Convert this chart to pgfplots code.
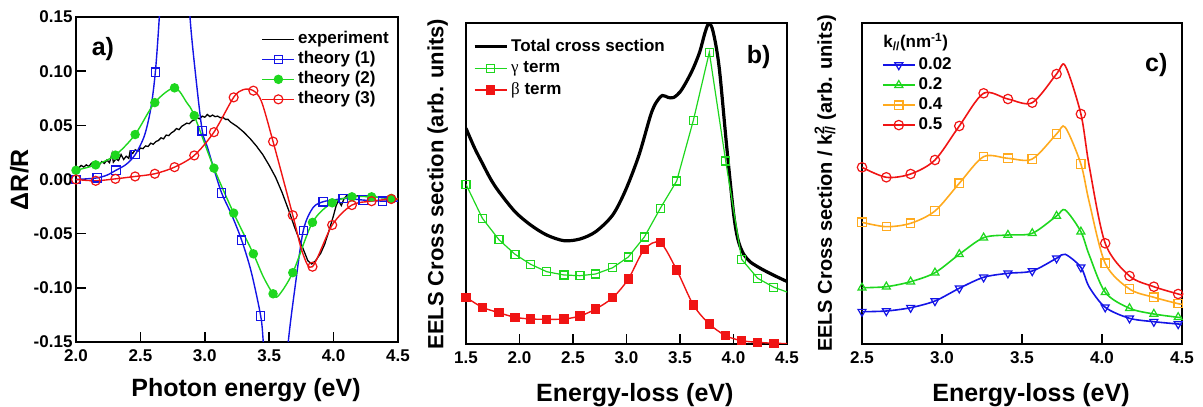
\documentclass[border=0pt]{standalone}
\usepackage{fontspec}
\setmainfont{Liberation Sans}
\newfontfamily\grk{Liberation Serif}
\usepackage{pgfplots}
\pgfplotsset{compat=1.18}
\definecolor{cblue}{RGB}{20,20,230}
\definecolor{cgreen}{RGB}{30,215,30}
\definecolor{cred}{RGB}{240,20,20}
\definecolor{corange}{RGB}{255,170,30}
\newcommand\tickfont{\fontsize{17}{17}\selectfont\bfseries}
\newcommand\labfont{\fontsize{25}{25}\selectfont\bfseries}
\newcommand\legfont{\fontsize{17}{17}\selectfont\bfseries}
\pgfplotsset{
  myaxis/.style={
    scale only axis, anchor=south west,
    axis line style={line width=1.6pt},
    tick style={line width=1.6pt, black},
    major tick length=10pt,
    tick pos=left,
    tick label style={font=\tickfont},
    xticklabel style={yshift=-4pt},
    /pgf/number format/assume math mode=true,
    label style={font=\labfont},
    legend cell align=left,
    legend style={draw=none, fill=none, font=\legfont, anchor=north west, inner sep=0pt, outer sep=0pt, row sep=0pt,
      nodes={inner xsep=3pt, inner ysep=2pt, text height=12.5pt, text depth=3.5pt}},
    legend image code/.code={\draw[##1, mark indices={2}] plot coordinates {(0pt,0pt) (16pt,0pt) (32pt,0pt)};},
  },
  % styles of the series
  sblue/.style={cblue, line width=1.4pt, mark=square, mark size=4.2pt, mark options={solid, fill=white, line width=1.2pt}},
  sgreenA/.style={cgreen, line width=1.4pt, mark=*, mark size=4pt, mark options={solid, fill=cgreen}},
  sredA/.style={cred, line width=1.4pt, mark=o, mark size=4.5pt, mark options={solid, fill=white, line width=1.2pt}},
  sgreenB/.style={cgreen, line width=1.2pt, mark=square, mark size=4pt, mark options={solid, fill=white, line width=1.1pt}},
  sredB/.style={cred, line width=1.4pt, mark=square*, mark size=4pt, mark options={solid, fill=cred}},
  cb/.style={cblue, line width=1.6pt, mark=triangle, mark size=4.6pt, mark options={solid, fill=white, rotate=180, line width=1.2pt}},
  cg/.style={cgreen, line width=1.6pt, mark=triangle, mark size=4.6pt, mark options={solid, fill=white, line width=1.2pt}},
  co/.style={corange, line width=1.6pt, mark=square, mark size=4.2pt, mark options={solid, fill=white, line width=1.2pt}},
  cr/.style={cred, line width=1.6pt, mark=o, mark size=4.7pt, mark options={solid, fill=white, line width=1.2pt}},
}
\begin{document}
\begin{tikzpicture}
\useasboundingbox (0,0) rectangle (1203pt,407pt);
% ---------------- panel a ----------------
\begin{axis}[myaxis, at={(76pt,65pt)}, width=322pt, height=325pt,
  xmin=2, xmax=4.5, ymin=-0.15, ymax=0.15,
  xtick={2,2.5,3,3.5,4,4.5}, xticklabels={2.0,2.5,3.0,3.5,4.0,4.5},
  ytick={-0.15,-0.1,-0.05,0,0.05,0.1,0.15},
  yticklabels={-0.15,-0.10,-0.05,0.00,0.05,0.10,0.15},
  xlabel={Photon energy (eV)}, ylabel={ΔR/R},
  xlabel style={at={(axis description cs:0.528,-0.168)}, anchor=base},
  ylabel style={at={(axis description cs:-0.149,0.5)}, anchor=base},
  legend style={at={(axis description cs:0.5767,0.962)}},
]
\addplot[black, line width=1.3pt] coordinates {
(2.00,0.012) (2.02,0.0105) (2.04,0.013) (2.06,0.0115) (2.08,0.0135) (2.10,0.012) (2.12,0.015) (2.14,0.0128)
(2.16,0.0155) (2.18,0.0135) (2.20,0.0165) (2.22,0.0148) (2.24,0.018) (2.26,0.0155) (2.28,0.024) (2.29,0.016)
(2.31,0.019) (2.33,0.0175) (2.35,0.023) (2.37,0.0185) (2.39,0.0215) (2.41,0.0195) (2.42,0.026) (2.44,0.024)
(2.46,0.0275) (2.48,0.026) (2.50,0.029) (2.52,0.0285) (2.54,0.031) (2.56,0.0305) (2.58,0.0335) (2.60,0.0325)
(2.62,0.035) (2.64,0.036) (2.66,0.0385) (2.68,0.0375) (2.70,0.041) (2.72,0.0405) (2.74,0.043) (2.76,0.0445)
(2.78,0.047) (2.80,0.046) (2.82,0.049) (2.84,0.0505) (2.86,0.052) (2.88,0.0515) (2.90,0.054) (2.92,0.055)
(2.94,0.057) (2.96,0.056) (2.98,0.0585) (3.00,0.0575) (3.02,0.060) (3.04,0.058) (3.06,0.0595) (3.08,0.058)
(3.10,0.0585) (3.12,0.057) (3.14,0.0575) (3.16,0.0555) (3.18,0.0555) (3.20,0.053) (3.25,0.049) (3.30,0.044)
(3.35,0.038) (3.40,0.031) (3.45,0.023) (3.50,0.013) (3.55,0.002) (3.60,-0.012) (3.65,-0.028) (3.70,-0.045)
(3.75,-0.060) (3.78,-0.069) (3.80,-0.075) (3.83,-0.078) (3.86,-0.075) (3.90,-0.068) (3.93,-0.060) (3.96,-0.049)
(4.00,-0.033) (4.02,-0.024) (4.04,-0.019) (4.05,-0.022) (4.06,-0.024) (4.08,-0.018) (4.10,-0.015) (4.14,-0.0155)
(4.20,-0.015) (4.30,-0.016) (4.40,-0.017) (4.50,-0.018)};
\addlegendentry{experiment}
% theory (1)
\addplot[sblue, no marks, smooth, forget plot] coordinates {
(2.00,0.000) (2.08,0.0006) (2.165,0.0015) (2.24,0.004) (2.31,0.0085) (2.39,0.014) (2.46,0.023) (2.53,0.040)
(2.58,0.065) (2.616,0.099) (2.647,0.15) (2.68,0.22) (2.76,0.32) (2.84,0.24) (2.885,0.15) (2.93,0.095)
(2.98,0.045) (3.02,0.030) (3.07,0.010) (3.131,-0.0125) (3.21,-0.033) (3.286,-0.056) (3.36,-0.085) (3.434,-0.126)
(3.454,-0.15) (3.49,-0.21) (3.55,-0.25) (3.61,-0.21) (3.648,-0.15) (3.70,-0.100) (3.765,-0.047) (3.84,-0.026)
(3.92,-0.0205) (4.00,-0.019) (4.075,-0.0175) (4.15,-0.018) (4.23,-0.019) (4.30,-0.0195) (4.38,-0.020) (4.50,-0.020)};
\addplot[sblue, only marks, forget plot] coordinates {
(2.00,0.000) (2.165,0.0015) (2.31,0.0085) (2.46,0.023) (2.616,0.099) (2.98,0.045) (3.131,-0.0125) (3.286,-0.056)
(3.434,-0.126) (3.765,-0.047) (3.92,-0.0205) (4.075,-0.0175) (4.23,-0.019) (4.38,-0.020)};
\addlegendimage{sblue}
\addlegendentry{theory (1)}
% theory (2)
\addplot[sgreenA, no marks, smooth, forget plot] coordinates {
(2.000,0.0085) (2.153,0.0135) (2.306,0.0225) (2.459,0.0415) (2.612,0.071) (2.765,0.0846) (2.86,0.071)
(2.918,0.059) (3.071,0.0105) (3.224,-0.031) (3.377,-0.0686) (3.455,-0.090) (3.530,-0.1055) (3.57,-0.1075)
(3.683,-0.086) (3.836,-0.0396) (3.989,-0.0215) (4.142,-0.016) (4.295,-0.016) (4.448,-0.0175) (4.5,-0.0175)};
\addplot[sgreenA, only marks, forget plot] coordinates {
(2.000,0.0085) (2.153,0.0135) (2.306,0.0225) (2.459,0.0415) (2.612,0.071) (2.765,0.0846) (2.918,0.059)
(3.071,0.0105) (3.224,-0.031) (3.377,-0.0686) (3.530,-0.1055) (3.683,-0.086) (3.836,-0.0396) (3.989,-0.0215)
(4.142,-0.016) (4.295,-0.016) (4.448,-0.0175)};
\addlegendimage{sgreenA}
\addlegendentry{theory (2)}
% theory (3)
\addplot[sredA, no marks, smooth, forget plot] coordinates {
(2.000,0.000) (2.153,-0.0012) (2.306,0.0006) (2.459,0.0028) (2.612,0.0053) (2.765,0.0114) (2.918,0.0222)
(3.071,0.0437) (3.224,0.0758) (3.30,0.083) (3.377,0.082) (3.44,0.072) (3.530,0.035) (3.683,-0.033)
(3.76,-0.068) (3.836,-0.0805) (3.989,-0.042) (4.142,-0.0236) (4.295,-0.020) (4.448,-0.018) (4.500,-0.018)};
\addplot[sredA, only marks, forget plot] coordinates {
(2.000,0.000) (2.153,-0.0012) (2.306,0.0006) (2.459,0.0028) (2.612,0.0053) (2.765,0.0114) (2.918,0.0222)
(3.071,0.0437) (3.224,0.0758) (3.377,0.082) (3.530,0.035) (3.683,-0.033) (3.836,-0.0805) (3.989,-0.042)
(4.142,-0.0236) (4.295,-0.020) (4.448,-0.018)};
\addlegendimage{sredA}
\addlegendentry{theory (3)}
\node[anchor=base west, font=\labfont] at (rel axis cs:0.038,0.883) {a)};
\end{axis}
% ---------------- panel b ----------------
\begin{axis}[myaxis, at={(466pt,63pt)}, width=321pt, height=321pt,
  xmin=1.5, xmax=4.5, ymin=0, ymax=321, ytick=\empty,
  xtick={1.5,2,2.5,3,3.5,4,4.5}, xticklabels={1.5,2.0,2.5,3.0,3.5,4.0,4.5},
  xlabel={Energy-loss (eV)}, ylabel={EELS Cross section (arb. units)},
  xlabel style={at={(axis description cs:0.526,-0.18)}, anchor=base},
  ylabel style={at={(axis description cs:-0.0707,0.498)}, anchor=base, font=\fontsize{22}{22}\selectfont\bfseries},
  legend style={at={(axis description cs:0.0218,0.960)}, nodes={inner ysep=2.85pt}},
]
\addplot[black, line width=3.2pt, smooth] coordinates {
(1.500,215.7) (1.58,196) (1.653,180.7) (1.73,165) (1.808,152.3) (1.958,132.3) (2.104,119) (2.254,109)
(2.416,103.3) (2.565,105) (2.712,112.3) (2.871,129) (2.992,154) (3.117,189) (3.226,229) (3.28,242)
(3.335,248.5) (3.39,246.5) (3.44,246.5) (3.50,252) (3.56,262.3) (3.625,276) (3.685,292.3) (3.73,310)
(3.765,320) (3.80,316) (3.84,296) (3.874,269) (3.936,198) (3.998,133) (4.03,110) (4.06,98) (4.10,89)
(4.154,82.3) (4.23,77) (4.31,72.3) (4.40,67.5) (4.5,62.5)};
\addlegendentry{Total cross section}
\addplot[sgreenB, no marks, forget plot] coordinates {
(1.500,159.7) (1.653,125.7) (1.808,104.3) (1.958,89.7) (2.104,79.7) (2.254,72.3) (2.416,69) (2.565,68.3)
(2.712,70) (2.871,76.3) (3.017,87) (3.167,107) (3.316,135.7) (3.469,163) (3.625,223.7) (3.774,291.7)
(3.927,183) (4.076,84.7) (4.226,65.7) (4.378,56.7) (4.5,52)};
\addplot[sgreenB, only marks, forget plot] coordinates {
(1.500,159.7) (1.653,125.7) (1.808,104.3) (1.958,89.7) (2.104,79.7) (2.254,72.3) (2.416,69) (2.565,68.3)
(2.712,70) (2.871,76.3) (3.017,87) (3.167,107) (3.316,135.7) (3.469,163) (3.625,223.7) (3.774,291.7)
(3.927,183) (4.076,84.7) (4.226,65.7) (4.378,56.7)};
\addlegendimage{sgreenB}
\addlegendentry{{\grk\mdseries γ} term}
\addplot[sredB, no marks, smooth, forget plot] coordinates {
(1.500,46.7) (1.653,36.7) (1.808,31.3) (1.958,26.7) (2.104,25) (2.254,24.7) (2.416,25) (2.565,28)
(2.712,35) (2.871,46.3) (3.017,65) (3.167,94.7) (3.316,101.3) (3.469,74) (3.625,39) (3.774,20)
(3.927,8.3) (4.076,3.3) (4.226,1.7) (4.378,0.7) (4.5,0.5)};
\addplot[sredB, only marks, forget plot] coordinates {
(1.500,46.7) (1.653,36.7) (1.808,31.3) (1.958,26.7) (2.104,25) (2.254,24.7) (2.416,25) (2.565,28)
(2.712,35) (2.871,46.3) (3.017,65) (3.167,94.7) (3.316,101.3) (3.469,74) (3.625,39) (3.774,20)
(3.927,8.3) (4.076,3.3) (4.226,1.7) (4.378,0.7)};
\addlegendimage{sredB}
\addlegendentry{{\grk\mdseries β} term}
\node[anchor=base west, font=\labfont] at (rel axis cs:0.864,0.874) {b)};
\end{axis}
% ---------------- panel c ----------------
\begin{axis}[myaxis, at={(862pt,63pt)}, width=320pt, height=321pt,
  xmin=2.5, xmax=4.5, ymin=0, ymax=321, ytick=\empty,
  xtick={2.5,3,3.5,4,4.5}, xticklabels={2.5,3.0,3.5,4.0,4.5},
  xlabel={Energy-loss (eV)},
  ylabel={EELS Cross section / k\rlap{\textsuperscript{2}}\textsubscript{//} (arb. units)},
  xlabel style={at={(axis description cs:0.528,-0.18)}, anchor=base},
  ylabel style={at={(axis description cs:-0.094,0.5)}, anchor=base, font=\fontsize{20}{20}\selectfont\bfseries},
  legend style={at={(axis description cs:0.0625,0.900)}},
]
% 0.02
\addplot[cb, no marks, smooth, forget plot] coordinates {
(2.500,32.3) (2.652,33) (2.804,36.3) (2.956,43) (3.108,55.7) (3.26,66.7) (3.412,70.7) (3.564,73) (3.716,85.7)
(3.77,89.7) (3.868,76.7) (3.92,57) (4.02,36.7) (4.172,25.7) (4.324,22.3) (4.476,20) (4.5,19.8)};
\addplot[cb, only marks, forget plot] coordinates {
(2.500,32.3) (2.652,33) (2.804,36.3) (2.956,43) (3.108,55.7) (3.26,66.7) (3.412,70.7) (3.564,73) (3.716,85.7)
(3.868,76.7) (4.02,36.7) (4.172,25.7) (4.324,22.3) (4.476,20)};
\addlegendimage{cb}
\addlegendentry{0.02}
% 0.2
\addplot[cg, no marks, smooth, forget plot] coordinates {
(2.500,56.3) (2.652,57.3) (2.804,62.3) (2.956,71.3) (3.108,89.7) (3.26,106.3) (3.412,109) (3.564,110.7) (3.716,128)
(3.77,134) (3.868,112.3) (3.92,89) (4.02,51.7) (4.172,35.7) (4.324,30) (4.476,26.7) (4.5,26.5)};
\addplot[cg, only marks, forget plot] coordinates {
(2.500,56.3) (2.652,57.3) (2.804,62.3) (2.956,71.3) (3.108,89.7) (3.26,106.3) (3.412,109) (3.564,110.7) (3.716,128)
(3.868,112.3) (4.02,51.7) (4.172,35.7) (4.324,30) (4.476,26.7)};
\addlegendimage{cg}
\addlegendentry{0.2}
% 0.4
\addplot[co, no marks, smooth, forget plot] coordinates {
(2.500,121.7) (2.652,117.3) (2.804,120.7) (2.956,133) (3.108,160.7) (3.26,187.3) (3.412,185.7) (3.564,185) (3.716,210)
(3.77,216.7) (3.868,180) (3.92,142) (4.02,80.7) (4.172,55) (4.324,46.7) (4.476,40.3) (4.5,40)};
\addplot[co, only marks, forget plot] coordinates {
(2.500,121.7) (2.652,117.3) (2.804,120.7) (2.956,133) (3.108,160.7) (3.26,187.3) (3.412,185.7) (3.564,185) (3.716,210)
(3.868,180) (4.02,80.7) (4.172,55) (4.324,46.7) (4.476,40.3)};
\addlegendimage{co}
\addlegendentry{0.4}
% 0.5
\addplot[cr, no marks, smooth, forget plot] coordinates {
(2.500,176.7) (2.652,166.7) (2.804,170) (2.956,184) (3.108,218) (3.26,250.7) (3.412,245) (3.564,241.3) (3.716,270)
(3.77,278.3) (3.868,230) (3.92,178) (4.02,100.7) (4.172,68) (4.324,57.3) (4.476,50) (4.5,49)};
\addplot[cr, only marks, forget plot] coordinates {
(2.500,176.7) (2.652,166.7) (2.804,170) (2.956,184) (3.108,218) (3.26,250.7) (3.412,245) (3.564,241.3) (3.716,270)
(3.868,230) (4.02,100.7) (4.172,68) (4.324,57.3) (4.476,50)};
\addlegendimage{cr}
\addlegendentry{0.5}
\node[anchor=base west, font=\legfont] at (rel axis cs:0.056,0.924) {k\textsubscript{//}(nm\textsuperscript{-1})};
\node[anchor=base west, font=\labfont] at (rel axis cs:0.874,0.848) {c)};
\end{axis}
\end{tikzpicture}
\end{document}
